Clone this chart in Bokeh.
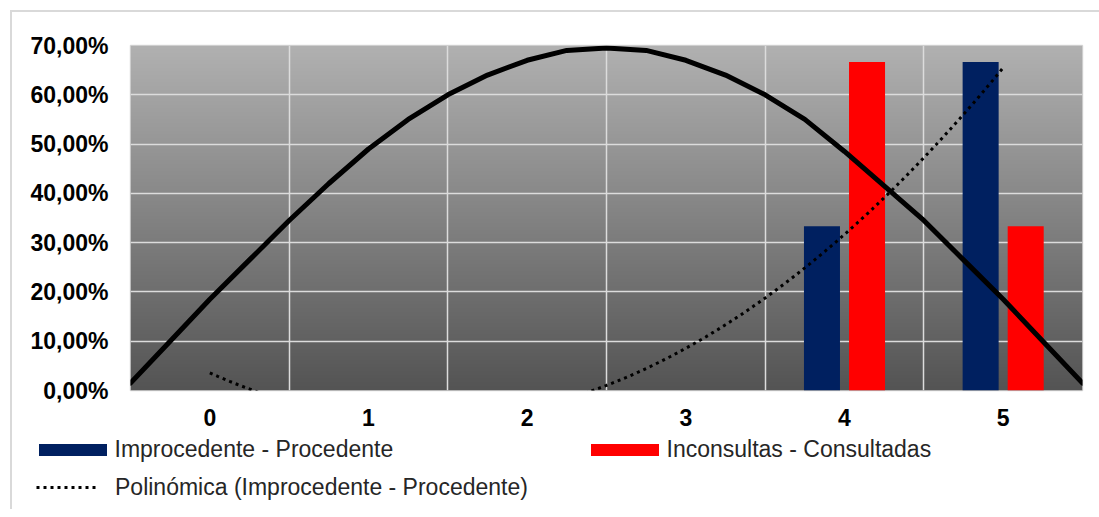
import numpy as np
from bokeh.plotting import figure
from bokeh.layouts import column
from bokeh.models import Range1d, FixedTicker, Legend, LegendItem, ColumnDataSource
from bokeh.transform import dodge
from bokeh.embed import file_html
from bokeh.resources import INLINE

# ---------------- data ----------------
categorias = [0, 1, 2, 3, 4, 5]
etiquetas_x = ["0", "1", "2", "3", "4", "5"]
improcedente = [0.0, 0.0, 0.0, 0.0, 33.33, 66.67]   # Improcedente - Procedente (%)
inconsultas = [0.0, 0.0, 0.0, 0.0, 66.67, 33.33]    # Inconsultas - Consultadas (%)
ticks_y = [0, 10, 20, 30, 40, 50, 60, 70]
etiquetas_y = ["0,00%", "10,00%", "20,00%", "30,00%", "40,00%", "50,00%", "60,00%", "70,00%"]

# black smooth curve
curva_x = [-0.5, -0.25, 0.0, 0.25, 0.5, 0.75, 1.0, 1.25, 1.5, 1.75, 2.0, 2.25, 2.5,
           2.75, 3.0, 3.25, 3.5, 3.75, 4.0, 4.25, 4.5, 4.75, 5.0, 5.25, 5.5]
curva_y = [1.5, 10.0, 18.5, 26.5, 34.5, 42.0, 49.0, 55.0, 60.0, 64.0, 67.0, 69.0, 69.5,
           69.0, 67.0, 64.0, 60.0, 55.0, 48.5, 41.5, 34.5, 26.5, 18.5, 10.0, 1.5]

# polynomial (order 2) trendline of Improcedente - Procedente
coef = np.polyfit(categorias, improcedente, 2)
tend_x = np.linspace(categorias[0], categorias[-1], 201)
tend_y = np.polyval(coef, tend_x)

NAVY, RED = "#002060", "#ff0000"

# ---------------- chart figure ----------------
p = figure(frame_width=952, frame_height=345,
           x_range=Range1d(-0.5, 5.5), y_range=Range1d(0, 70),
           output_backend="svg", toolbar_location=None,
           min_border_left=118, min_border_right=17,
           min_border_top=33, min_border_bottom=45)
p.background_fill_color = "#808080"
p.border_fill_color = "white"
p.outline_line_color = "#d9d9d9"
p.outline_line_width = 1.5

# gradient plot-area background
n = 345
img = np.empty((n, 1), dtype=np.uint32)
view = img.view(dtype=np.uint8).reshape((n, 1, 4))
t = np.linspace(0.0, 1.0, n)
top_c, bot_c = 177.0, 84.0
g = (bot_c + (top_c - bot_c) * t).astype(np.uint8)
view[:, 0, 0] = g
view[:, 0, 1] = g
view[:, 0, 2] = g
view[:, 0, 3] = 255
p.image_rgba(image=[img], x=-0.5, y=0, dw=6, dh=70, level="image")

# grids
p.xgrid.ticker = FixedTicker(ticks=[c + 0.5 for c in categorias[:-1]])
p.ygrid.ticker = FixedTicker(ticks=ticks_y)
for gr in (p.xgrid, p.ygrid):
    gr.grid_line_color = "#dcdcdc"
    gr.grid_line_width = 1.5

# axes
p.xaxis.ticker = FixedTicker(ticks=categorias)
p.xaxis.major_label_overrides = {c: l for c, l in zip(categorias, etiquetas_x)}
p.yaxis.ticker = FixedTicker(ticks=ticks_y)
p.yaxis.major_label_overrides = {t_: l for t_, l in zip(ticks_y, etiquetas_y)}
for ax in (p.xaxis, p.yaxis):
    ax.axis_line_color = None
    ax.major_tick_line_color = None
    ax.minor_tick_line_color = None
    ax.major_tick_in = 0
    ax.major_tick_out = 0
    ax.major_label_text_font = "Liberation Sans"
    ax.major_label_text_font_style = "bold"
    ax.major_label_text_font_size = "23px"
    ax.major_label_text_color = "#000000"
p.yaxis.major_label_standoff = 22
p.xaxis.major_label_standoff = 18

# bars
src = ColumnDataSource(dict(cat=categorias, imp=improcedente, inc=inconsultas))
p.vbar(x=dodge("cat", -0.142, range=p.x_range), top="imp", width=0.227, source=src,
       fill_color=NAVY, line_color=None)
p.vbar(x=dodge("cat", 0.142, range=p.x_range), top="inc", width=0.227, source=src,
       fill_color=RED, line_color=None)

# black curve
p.line(curva_x, curva_y, line_color="black", line_width=5, line_join="round", line_cap="round")

# trendline
p.line(tend_x, tend_y, line_color="black", line_width=3, line_dash="3 4")

# ---------------- legend strip ----------------
q = figure(frame_width=1087, frame_height=74, x_range=Range1d(0, 1), y_range=Range1d(0, 1),
           x_axis_type=None, y_axis_type=None, output_backend="svg", toolbar_location=None,
           min_border=0)
q.outline_line_color = None
q.grid.visible = False
q.background_fill_color = "white"
q.border_fill_color = "white"
# proxy renderers (placed outside the visible range) that only feed the legend swatches
proxy = ColumnDataSource(dict(x=[-10.0, -11.0], y=[-10.0, -11.0], top=[-10.0, -11.0]))
l_imp = q.vbar(x="x", top="top", width=0.1, source=proxy, fill_color=NAVY, line_color=None)
l_inc = q.vbar(x="x", top="top", width=0.1, source=proxy, fill_color=RED, line_color=None)
l_tend = q.line(x="x", y="y", source=proxy, line_color="black", line_width=3, line_dash="3 4")

common = dict(label_text_font="Liberation Sans", label_text_font_size="23px",
              label_text_color="#262626", padding=0, margin=0, spacing=0, label_height=30,
              background_fill_alpha=0, border_line_color=None)
bar_leg = dict(glyph_width=85, glyph_height=15, label_standoff=0)
leg1 = Legend(items=[LegendItem(label="Improcedente - Procedente", renderers=[l_imp])],
              location=(17.5, 45), **bar_leg, **common)
leg2 = Legend(items=[LegendItem(label="Inconsultas - Consultadas", renderers=[l_inc])],
              location=(569.5, 45), **bar_leg, **common)
leg3 = Legend(items=[LegendItem(label="Polinómica (Improcedente - Procedente)", renderers=[l_tend])],
              location=(24, 7), glyph_width=62, glyph_height=12, label_standoff=17, **common)
for lg in (leg1, leg2, leg3):
    q.add_layout(lg, "center")

page = column(p, q, spacing=0,
              styles={"margin-left": "10px", "margin-top": "10px",
                      "border-top": "2px solid #d9d9d9", "border-left": "2px solid #d9d9d9"})

open("out.html", "w").write(file_html(page, INLINE))
